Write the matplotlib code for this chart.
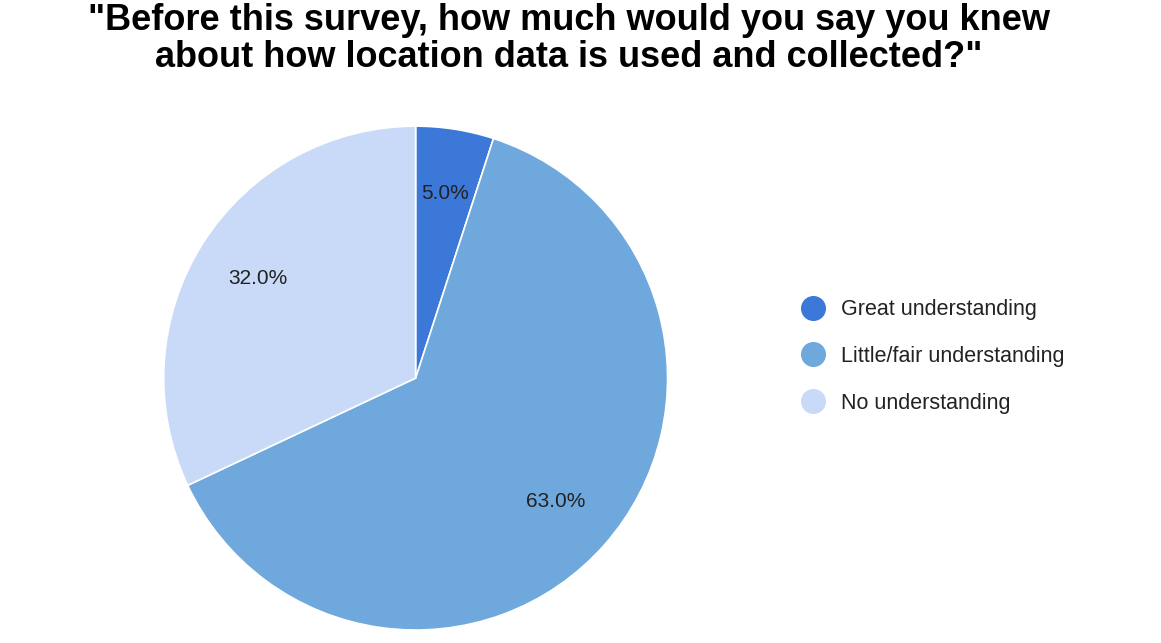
import matplotlib
matplotlib.use("Agg")
import matplotlib.pyplot as plt
from matplotlib.lines import Line2D

plt.rcParams["font.family"] = "Liberation Sans"

categories = ["Great understanding", "Little/fair understanding", "No understanding"]
values = [5.0, 63.0, 32.0]
colors = ["#3c78d8", "#6fa8dc", "#c9daf8"]
title = '"Before this survey, how much would you say you knew\nabout how location data is used and collected?"'

fig = plt.figure(figsize=(11.61, 6.43), dpi=100)
ax = fig.add_axes([0.141, 0.020, 0.434, 0.784])
wedges, texts, autotexts = ax.pie(values, colors=colors, startangle=90, counterclock=False,
                                  autopct="%1.1f%%", pctdistance=0.74,
                                  wedgeprops=dict(edgecolor="white", linewidth=1.2),
                                  textprops=dict(fontsize=15, color="#222222"))
ax.set_xlim(-1, 1)
ax.set_ylim(-1, 1)
ax.set_aspect("equal")

fig.suptitle(title, x=0.49, y=0.995, fontsize=26, fontweight="bold", linespacing=1.05)

handles = [Line2D([0], [0], marker="o", linestyle="", markersize=17,
                  markerfacecolor=c, markeredgecolor=c) for c in colors]
fig.legend(handles, categories, loc="upper left", bbox_to_anchor=(0.665, 0.565),
           frameon=False, fontsize=15.5, labelspacing=1.2, handletextpad=0.3,
           labelcolor="#222222")

fig.savefig("out.png", dpi=100)
